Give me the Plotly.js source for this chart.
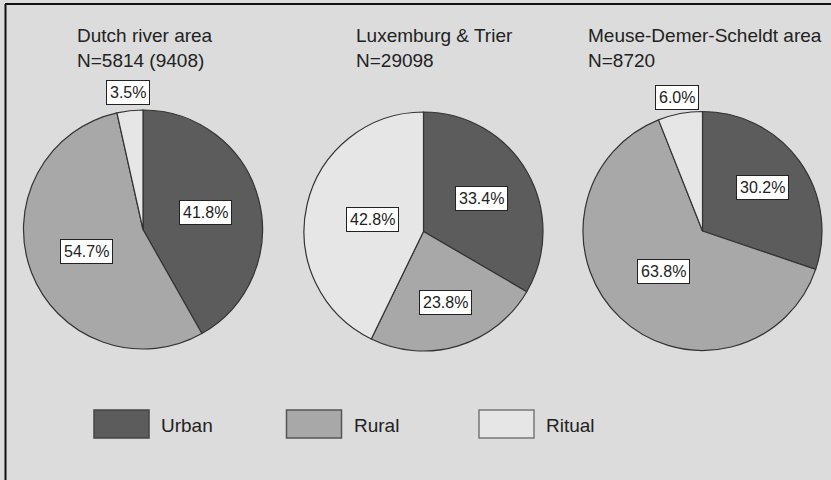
<!DOCTYPE html>
<html><head><meta charset="utf-8">
<script src="https://cdn.plot.ly/plotly-3.0.1.min.js"></script>
<style>html,body{margin:0;padding:0;background:#dcdcdc}</style>
</head><body><div id="chart" style="width:831px;height:480px"></div>
<script>
// ---- data ----
const categories = ['Urban', 'Rural', 'Ritual'];
const regions = ['Dutch river area', 'Luxemburg & Trier', 'Meuse-Demer-Scheldt area'];
const sampleSizes = ['N=5814 (9408)', 'N=29098', 'N=8720'];
const dutchRiver = [41.8, 54.7, 3.5];
const luxemburgTrier = [33.4, 23.8, 42.8];
const meuseDemerScheldt = [30.2, 63.8, 6.0];
const series = [dutchRiver, luxemburgTrier, meuseDemerScheldt];

// ---- styles / layout ----
const W = 831, H = 480;
const colors = ['#5c5c5c', '#a8a8a8', '#e6e6e6'];
const legendLine = ['#444', '#555', '#777'];
const centers = [[143, 229.5], [423.5, 231.5], [702.5, 231]];
const R = 119.5;
// radial distance of each value label, as a fraction of the radius
const labelRadius = [[0.545, 0.51, 1.155], [0.56, 0.62, 0.44], [0.62, 0.47, 1.14]];
const titleX = [75, 354, 586];
const titleMid = 47.5;
const FONT = 'Liberation Sans, Arial, sans-serif';

const px = x => x / W;
const py = y => 1 - y / H;

const traces = series.map((vals, i) => ({
  type: 'pie',
  labels: categories,
  values: vals,
  sort: false,
  direction: 'clockwise',
  rotation: 0,
  textinfo: 'none',
  hoverinfo: 'label+percent',
  showlegend: false,
  marker: {colors: colors, line: {color: '#333', width: 1.2}},
  domain: {
    x: [px(centers[i][0] - R), px(centers[i][0] + R)],
    y: [py(centers[i][1] + R), py(centers[i][1] - R)]
  }
}));

const annotations = [];
const shapes = [];

// value labels, positioned from each slice's mid-angle
series.forEach((vals, i) => {
  const total = vals.reduce((a, b) => a + b, 0);
  let cum = 0;
  vals.forEach((v, j) => {
    const mid = (cum + v / 2) / total * 2 * Math.PI;
    cum += v;
    const f = labelRadius[i][j];
    const x = centers[i][0] + f * R * Math.sin(mid);
    const y = centers[i][1] - f * R * Math.cos(mid);
    annotations.push({
      xref: 'paper', yref: 'paper', x: px(x), y: py(y),
      xanchor: 'center', yanchor: 'middle', showarrow: false,
      text: v.toFixed(1) + '%',
      font: {family: FONT, size: 16, color: '#222'},
      bgcolor: '#ffffff', bordercolor: '#222', borderwidth: 1, borderpad: 3
    });
  });
});

// titles
regions.forEach((r, i) => {
  annotations.push({
    xref: 'paper', yref: 'paper', x: px(titleX[i]), y: py(titleMid),
    xanchor: 'left', yanchor: 'middle', align: 'left', showarrow: false,
    text: r + '<br>' + sampleSizes[i],
    font: {family: FONT, size: 19, color: '#222'}
  });
});

// legend
categories.forEach((c, i) => {
  const x0 = 94 + i * 192.5;
  shapes.push({
    type: 'rect', xref: 'paper', yref: 'paper',
    x0: px(x0), x1: px(x0 + 55), y0: py(438), y1: py(410),
    fillcolor: colors[i], line: {color: legendLine[i], width: 1.5}
  });
  annotations.push({
    xref: 'paper', yref: 'paper', x: px(x0 + 65), y: py(425),
    xanchor: 'left', yanchor: 'middle', showarrow: false, text: c,
    font: {family: FONT, size: 19, color: '#222'}
  });
});

// frame (top and left edges)
shapes.push({type: 'line', xref: 'paper', yref: 'paper', x0: px(5), x1: 1, y0: py(4), y1: py(4), line: {color: '#111', width: 2}});
shapes.push({type: 'line', xref: 'paper', yref: 'paper', x0: px(5.5), x1: px(5.5), y0: py(4), y1: 0, line: {color: '#111', width: 2}});

const layout = {
  width: W, height: H,
  margin: {l: 0, r: 0, t: 0, b: 0},
  paper_bgcolor: '#dcdcdc', plot_bgcolor: '#dcdcdc',
  showlegend: false,
  annotations: annotations,
  shapes: shapes,
  font: {family: FONT}
};

Plotly.newPlot('chart', traces, layout, {displayModeBar: false, staticPlot: true});
</script></body></html>
